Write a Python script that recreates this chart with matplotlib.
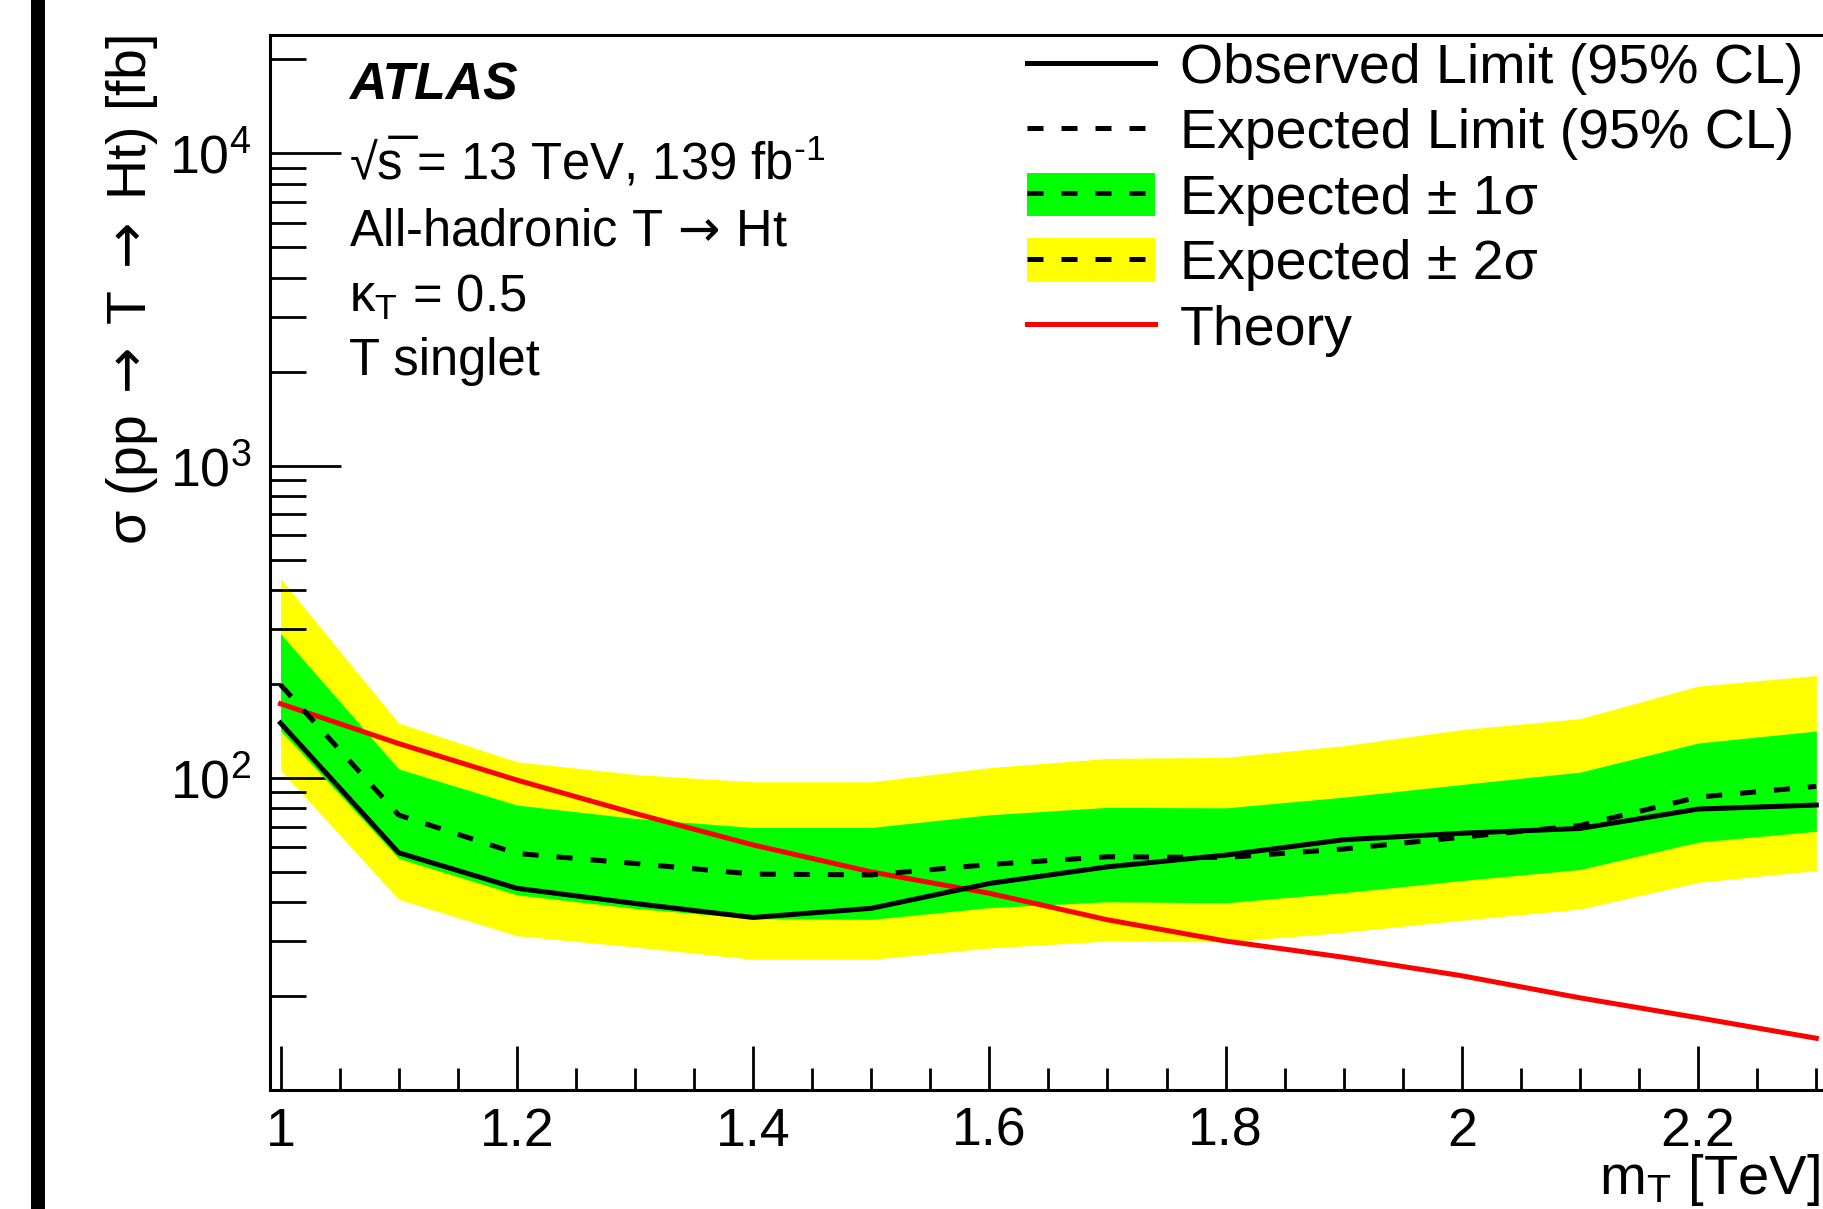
import matplotlib
matplotlib.use("Agg")
import matplotlib.pyplot as plt
from matplotlib.lines import Line2D
from matplotlib.patches import Patch, Rectangle
from matplotlib.ticker import MultipleLocator, FuncFormatter, LogLocator, NullFormatter, LogFormatterMathtext

# ---------------- data ----------------
mass = [1.0, 1.1, 1.2, 1.3, 1.4, 1.5, 1.6, 1.7, 1.8, 1.9, 2.0, 2.1, 2.2, 2.3]
observed = [150, 57.7, 44.4, 39.7, 35.8, 38.3, 46.0, 52.0, 56.7, 63.5, 66.6, 69.0, 79.6, 82.0]
expected = [199, 76.2, 57.4, 53.3, 49.3, 49.0, 52.9, 56.0, 55.7, 59.3, 64.7, 70.5, 86.9, 94.1]
exp_plus1 = [290, 107, 82.0, 74.3, 69.5, 69.5, 76.3, 80.6, 80.3, 86.9, 95.4, 104.5, 129.5, 141.5]
exp_minus1 = [142, 55.3, 42.3, 38.3, 35.5, 35.3, 38.5, 40.2, 39.9, 43.0, 47.0, 51.0, 62.4, 67.6]
exp_plus2 = [435, 150, 112.8, 102.7, 97.3, 97.3, 108, 115.6, 116.5, 127, 143, 155, 197, 213]
exp_minus2 = [106, 40.9, 31.3, 28.8, 26.3, 26.3, 28.6, 30.1, 29.9, 32.1, 35.1, 38.1, 46.4, 50.6]
theory = [173, 129, 98.6, 77.1, 61.1, 50.1, 42.8, 35.2, 30.1, 26.7, 23.3, 19.8, 17.1, 14.7]

ARROW = "$\\,\\mathsf{\\rightarrow}\\,$"
ARROW_Y = "$\\;\\mathsf{\\rightarrow}\\;$"
legend_labels = ["Observed Limit (95% CL)", "Expected Limit (95% CL)",
                 "Expected \u00b1 1\u03c3", "Expected \u00b1 2\u03c3", "Theory"]
info_lines = ["\u221as\u0305 = 13 TeV, 139 fb$^{\\text{-1}}$",
              "All-hadronic T" + ARROW + "Ht",
              "$\\mathrm{\\kappa}_{\\mathrm{T}}$ = 0.5",
              "T singlet"]
y_title = "\u03c3 (pp" + ARROW_Y + "T" + ARROW_Y + "Ht) [fb]"
x_title = "$\\mathrm{m}_{\\mathrm{T}}$ [TeV]"

# ---------------- style ----------------
FONT = ["Liberation Sans", "DejaVu Sans"]
plt.rcParams["font.family"] = FONT
plt.rcParams["mathtext.fontset"] = "custom"
plt.rcParams["mathtext.rm"] = "Liberation Sans"
plt.rcParams["mathtext.it"] = "Liberation Sans:italic"
plt.rcParams["mathtext.bf"] = "Liberation Sans:bold"
plt.rcParams["mathtext.sf"] = "DejaVu Sans"

W, H = 1824, 1209
fig = plt.figure(figsize=(W / 100, H / 100), dpi=100)

def fx(px):
    return px / W

def fy(py):
    return 1 - py / H

ax_left, ax_top, ax_bottom = 270, 35, 1090
ax = fig.add_axes([fx(ax_left), fy(ax_bottom), 1 - fx(ax_left), (ax_bottom - ax_top) / H])

YELLOW = "#ffff00"
GREEN = "#00ff00"
RED = "#ff0000"
LW = 3.6
DASH = (0, (3.2, 3.6))

ax.fill_between(mass, exp_minus2, exp_plus2, color=YELLOW, lw=0, zorder=1)
ax.fill_between(mass, exp_minus1, exp_plus1, color=GREEN, lw=0, zorder=2)
ax.plot(mass, theory, color=RED, lw=LW, zorder=3)
ax.plot(mass, expected, color="black", lw=LW, ls=DASH, zorder=4)
ax.plot(mass, observed, color="black", lw=LW, zorder=5)

ax.set_yscale("log")
ax.set_xlim(0.9911, 2.3065)
ax.set_ylim(10.04, 2.39e4)

ax.xaxis.set_major_locator(MultipleLocator(0.2))
ax.xaxis.set_minor_locator(MultipleLocator(0.05))
ax.xaxis.set_major_formatter(FuncFormatter(lambda v, p: "%g" % round(v, 3)))
ax.yaxis.set_major_locator(LogLocator(base=10, numticks=20))
ax.yaxis.set_minor_locator(LogLocator(base=10, subs=range(2, 10), numticks=20))
ax.yaxis.set_major_formatter(LogFormatterMathtext())
ax.yaxis.set_minor_formatter(NullFormatter())

for s in ["left", "top", "bottom"]:
    ax.spines[s].set_linewidth(2.2)
ax.spines["right"].set_visible(False)

ax.tick_params(axis="both", which="both", direction="in", width=2.0, colors="black",
               top=False, right=False)
ax.tick_params(axis="y", which="major", length=51, pad=13.5, labelsize=38.7)
ax.tick_params(axis="y", which="minor", length=26)
ax.tick_params(axis="x", which="major", length=32, pad=12, labelsize=38.7)
ax.tick_params(axis="x", which="minor", length=16)

# axis titles
ax.set_ylabel(y_title, loc="top", fontsize=40)
ax.yaxis.set_label_coords((160 - ax_left) / (W - ax_left), 1.0)
ax.set_xlabel(x_title, loc="right", fontsize=40.5)
ax.xaxis.set_label_coords((1820 - ax_left) / (W - ax_left), (ax_bottom - 1152) / (ax_bottom - ax_top))

# ATLAS + info text
fig.text(fx(349), fy(100), "ATLAS", fontsize=37.3, fontweight="bold", fontstyle="italic",
         va="baseline", ha="left")
baselines = [180, 245, 312, 375]
for txt, b in zip(info_lines, baselines):
    fig.text(fx(349), fy(b), txt, fontsize=36.5, va="baseline", ha="left")

# legend
h_obs = Line2D([], [], color="black", lw=LW)
h_exp = Line2D([], [], color="black", lw=LW, ls=DASH)
h_1s = (Patch(facecolor=GREEN, edgecolor="none"), Line2D([], [], color="black", lw=LW, ls=DASH))
h_2s = (Patch(facecolor=YELLOW, edgecolor="none"), Line2D([], [], color="black", lw=LW, ls=DASH))
h_th = Line2D([], [], color=RED, lw=LW)
ax.legend([h_obs, h_exp, h_1s, h_2s, h_th], legend_labels,
          loc="upper left", bbox_to_anchor=(fx(1027), fy(42)), bbox_transform=fig.transFigure,
          frameon=False, fontsize=40, handlelength=2.3, handleheight=0.83,
          handletextpad=0.45, labelspacing=0.223, borderpad=0, borderaxespad=0)

# page border bar on the left
fig.patches.append(Rectangle((fx(30.6), 0), fx(14.6), 1, transform=fig.transFigure,
                             facecolor="black", edgecolor="none"))

fig.savefig("out.png", dpi=100)
